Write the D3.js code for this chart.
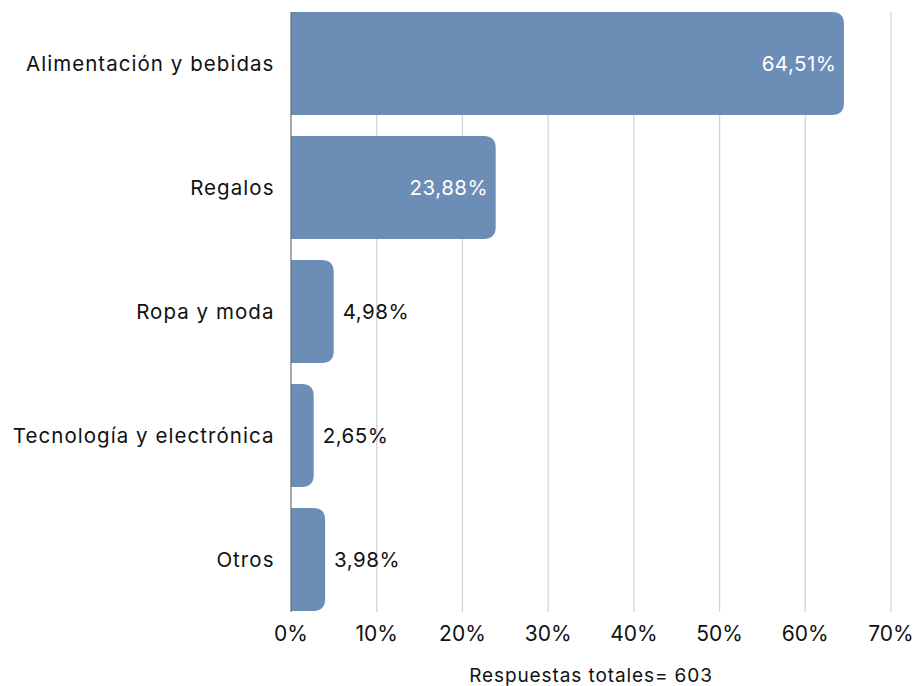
<!DOCTYPE html>
<html><head><meta charset="utf-8">
<script src="https://cdn.jsdelivr.net/npm/d3@7"></script>
<style>body{margin:0;background:#fff}svg{display:block}text{font-family:Inter,"DejaVu Sans",sans-serif}</style>
</head><body><svg id="c" width="917" height="686"></svg>
<script>
const categories = ["Alimentación y bebidas","Regalos","Ropa y moda","Tecnología y electrónica","Otros"];
const values = [64.51, 23.88, 4.98, 2.65, 3.98];
const valueLabels = ["64,51%","23,88%","4,98%","2,65%","3,98%"];
const ticks = [0,10,20,30,40,50,60,70];
const footnote = "Respuestas totales= 603";

(function(){
const svg = d3.select("#c");
const x = d3.scaleLinear().domain([0,70]).range([291,891]);
const y = d3.scaleBand().domain(categories).range([12,611]).paddingInner(0.169).paddingOuter(0);
const plotTop = 12, plotBottom = 612;

svg.append("g").selectAll("line").data(ticks.filter(t=>t>0)).join("line")
  .attr("x1",d=>x(d)).attr("x2",d=>x(d)).attr("y1",plotTop).attr("y2",plotBottom)
  .attr("stroke","#d4d4d4").attr("stroke-width",1.3);

const r = 12;
function barPath(x0,x1,y0,h){
  const w = x1-x0, rr = Math.min(r,w,h/2);
  return `M${x0},${y0}H${x1-rr}Q${x1},${y0} ${x1},${y0+rr}V${y0+h-rr}Q${x1},${y0+h} ${x1-rr},${y0+h}H${x0}Z`;
}
svg.append("g").selectAll("path").data(categories).join("path")
  .attr("d",(d,i)=>barPath(x(0),x(values[i]),y(d),y.bandwidth()))
  .attr("fill","#6b8db6");

svg.append("line").attr("x1",x(0)).attr("x2",x(0)).attr("y1",plotTop).attr("y2",plotBottom)
  .attr("stroke","#6e6e6e").attr("stroke-width",1.2);

svg.append("g").selectAll("text").data(categories).join("text")
  .attr("x",274.5).attr("y",d=>y(d)+y.bandwidth()/2).attr("dy","0.35em")
  .attr("text-anchor","end").attr("font-size",20.5).attr("letter-spacing","1.05px")
  .attr("fill","#111").text(d=>d);

svg.append("g").selectAll("text").data(categories).join("text")
  .each(function(d,i){
    const inside = values[i] > 15;
    d3.select(this)
      .attr("x", inside ? x(values[i])-7.5 : x(values[i])+9)
      .attr("text-anchor", inside ? "end" : "start")
      .attr("fill", inside ? "#fff" : "#111");
  })
  .attr("y",d=>y(d)+y.bandwidth()/2).attr("dy","0.35em")
  .attr("font-size",20.5).attr("letter-spacing","0.5px").text((d,i)=>valueLabels[i]);

svg.append("g").selectAll("text").data(ticks).join("text")
  .attr("x",d=>x(d)).attr("y",634).attr("dy","0.35em").attr("text-anchor","middle")
  .attr("font-size",21).attr("fill","#111").text(d=>d+"%");

svg.append("text").attr("x",591).attr("y",675).attr("dy","0.35em").attr("text-anchor","middle")
  .attr("font-size",19).attr("letter-spacing","0.9px").attr("fill","#111").text(footnote);
})();
</script></body></html>
